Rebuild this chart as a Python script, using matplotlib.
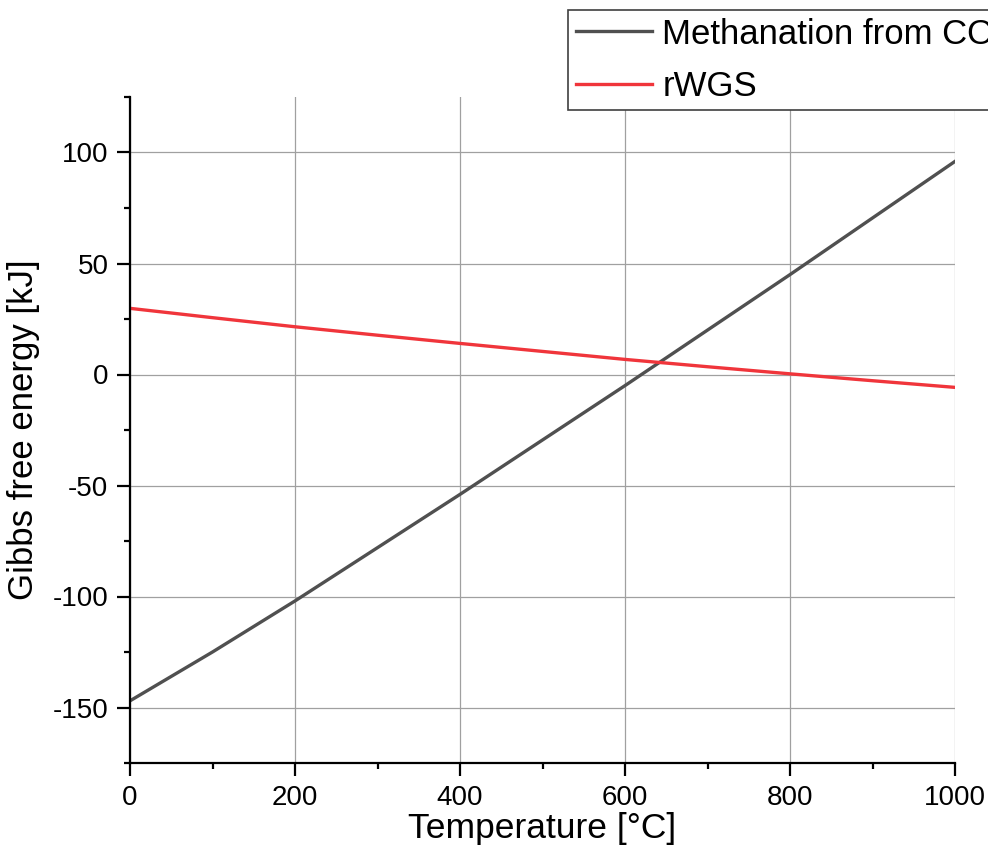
import numpy as np
import matplotlib.pyplot as plt
from matplotlib.ticker import MultipleLocator

plt.rcParams.update(
    {
        "font.family": ["Liberation Sans", "DejaVu Sans"],
        "axes.unicode_minus": False,
    }
)

temperature = [0, 100, 200, 300, 400, 500, 600, 700, 800, 900, 1000]
methanation = [-147, -125, -102, -78, -54, -29.5, -5, 20, 45, 70.5, 96]
rwgs = [29.8, 25.6, 21.5, 17.7, 14.0, 10.4, 6.8, 3.5, 0.3, -2.8, -5.8]

fig = plt.figure(figsize=(9.88, 8.57), dpi=100)
ax = fig.add_axes([130 / 988, 1 - 763 / 857, 825 / 988, 666 / 857])

l1, = ax.plot(temperature, methanation, color="#505050", lw=2.4, label="Methanation from CO₂")
l2, = ax.plot(temperature, rwgs, color="#f0353b", lw=2.4, label="rWGS")

ax.set_xlim(0, 1000)
ax.set_ylim(-175, 125)
ax.xaxis.set_major_locator(MultipleLocator(200))
ax.xaxis.set_minor_locator(MultipleLocator(100))
ax.yaxis.set_major_locator(MultipleLocator(50))
ax.yaxis.set_minor_locator(MultipleLocator(25))
ax.grid(which="major", color="#a0a0a0", lw=0.9)
ax.set_axisbelow(True)

for side in ["top", "right"]:
    ax.spines[side].set_visible(False)
for side in ["left", "bottom"]:
    ax.spines[side].set_linewidth(1.6)
ax.tick_params(which="major", direction="out", length=9.5, width=1.6, pad=6, labelsize=20)
ax.tick_params(which="minor", direction="out", length=4.5, width=1.6)

ax.set_xlabel("Temperature [°C]", fontsize=25.5, labelpad=1)
ax.set_ylabel("Gibbs free energy [kJ]", fontsize=25, labelpad=9)

leg = fig.legend(
    handles=[l1, l2],
    loc="upper left",
    bbox_to_anchor=(568 / 988, 1 - 10 / 857),
    fontsize=25,
    frameon=True,
    fancybox=False,
    framealpha=1,
    edgecolor="#404040",
    handlelength=2.2,
    handletextpad=0.3,
    labelspacing=0.55,
    borderpad=0.22,
    borderaxespad=0,
)
leg.get_frame().set_linewidth(1.2)

fig.savefig("out.png", dpi=100)
